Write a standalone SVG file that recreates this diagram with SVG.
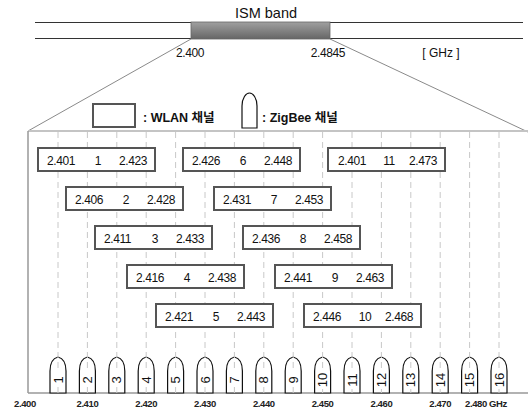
<svg xmlns="http://www.w3.org/2000/svg" width="528" height="411" viewBox="0 0 528 411">
<style>
text{font-family:"Liberation Sans","Noto Sans CJK KR",sans-serif;fill:#111}
.t12{font-size:12px}
.ax{font-size:9.5px;font-weight:bold;text-anchor:middle;letter-spacing:-0.4px;fill:#222}
.wl{fill:#fff;stroke:#555;stroke-width:2}
.wt{font-size:12px;letter-spacing:-0.4px}
.cap{fill:#fff;stroke:#111;stroke-width:1.2}
.grid{stroke:#c8c8c8;stroke-width:1;stroke-dasharray:6 4;fill:none}
.num{font-size:13px;text-anchor:middle}
</style>
<defs>
<linearGradient id="gb" x1="0" y1="0" x2="0" y2="1">
<stop offset="0" stop-color="#a0a0a0"/>
<stop offset="1" stop-color="#666"/>
</linearGradient>
<path id="cap" d="M-8,393 V371 C-8,362 -4,358 0,357 C4,358 8,362 8,371 V393 Z"/>
</defs>
<rect width="528" height="411" fill="#fff"/>
<g id="ism-band">
<text x="266" y="18" text-anchor="middle" style="font-size:14.5px">ISM band</text>
<line x1="35" y1="22.5" x2="523" y2="22.5" stroke="#333" stroke-width="1"/>
<line x1="35" y1="38.5" x2="523" y2="38.5" stroke="#333" stroke-width="1"/>
<rect x="191" y="22" width="139" height="17" fill="url(#gb)" stroke="#666" stroke-width="0.8"/>
<text class="t12" x="190" y="57" text-anchor="middle" letter-spacing="-0.4">2.400</text>
<text class="t12" x="328" y="57" text-anchor="middle" letter-spacing="-0.4">2.4845</text>
<text class="t12" x="441" y="57" text-anchor="middle">[ GHz ]</text>
</g>
<g id="zoom-lines" stroke="#8a8a8a" stroke-width="1" fill="none">
<line x1="191" y1="39" x2="28" y2="131"/>
<line x1="330" y1="39" x2="528" y2="132"/>
</g>
<g id="legend">
<rect x="93" y="104" width="42" height="23" class="wl"/>
<text x="143" y="122" style="font-size:12.5px;font-weight:bold">: WLAN 채널</text>
<path class="cap" d="M242,128 V106 C242,98 246,93 249.5,93 C253,93 257,98 257,106 V128 Z"/>
<text x="262" y="122" style="font-size:12.5px;font-weight:bold">: ZigBee 채널</text>
</g>
<g id="frame" fill="none">
<line x1="28" y1="131" x2="528" y2="131" stroke="#c4c4c4" stroke-width="2"/>
<line x1="28" y1="131" x2="28" y2="393" stroke="#999" stroke-width="1.5"/>
<line x1="28" y1="393" x2="528" y2="393" stroke="#999" stroke-width="1.5"/>
</g>
<g id="zigbee-channels">
<g id="zb1"><use href="#cap" x="58" class="cap"/><text class="num" transform="translate(58,380) rotate(-90)" y="4.5">1</text></g>
<g id="zb2"><use href="#cap" x="87.4" class="cap"/><text class="num" transform="translate(87.4,380) rotate(-90)" y="4.5">2</text></g>
<g id="zb3"><use href="#cap" x="116.8" class="cap"/><text class="num" transform="translate(116.8,380) rotate(-90)" y="4.5">3</text></g>
<g id="zb4"><use href="#cap" x="146.2" class="cap"/><text class="num" transform="translate(146.2,380) rotate(-90)" y="4.5">4</text></g>
<g id="zb5"><use href="#cap" x="175.6" class="cap"/><text class="num" transform="translate(175.6,380) rotate(-90)" y="4.5">5</text></g>
<g id="zb6"><use href="#cap" x="205" class="cap"/><text class="num" transform="translate(205,380) rotate(-90)" y="4.5">6</text></g>
<g id="zb7"><use href="#cap" x="234.4" class="cap"/><text class="num" transform="translate(234.4,380) rotate(-90)" y="4.5">7</text></g>
<g id="zb8"><use href="#cap" x="263.8" class="cap"/><text class="num" transform="translate(263.8,380) rotate(-90)" y="4.5">8</text></g>
<g id="zb9"><use href="#cap" x="293.2" class="cap"/><text class="num" transform="translate(293.2,380) rotate(-90)" y="4.5">9</text></g>
<g id="zb10"><use href="#cap" x="322.6" class="cap"/><text class="num" transform="translate(322.6,380) rotate(-90)" y="4.5">10</text></g>
<g id="zb11"><use href="#cap" x="352" class="cap"/><text class="num" transform="translate(352,380) rotate(-90)" y="4.5">11</text></g>
<g id="zb12"><use href="#cap" x="381.4" class="cap"/><text class="num" transform="translate(381.4,380) rotate(-90)" y="4.5">12</text></g>
<g id="zb13"><use href="#cap" x="410.8" class="cap"/><text class="num" transform="translate(410.8,380) rotate(-90)" y="4.5">13</text></g>
<g id="zb14"><use href="#cap" x="440.2" class="cap"/><text class="num" transform="translate(440.2,380) rotate(-90)" y="4.5">14</text></g>
<g id="zb15"><use href="#cap" x="469.6" class="cap"/><text class="num" transform="translate(469.6,380) rotate(-90)" y="4.5">15</text></g>
<g id="zb16"><use href="#cap" x="499" class="cap"/><text class="num" transform="translate(499,380) rotate(-90)" y="4.5">16</text></g>
</g>
<g id="grid" class="grid">
<path d="M58,132V371M58,387V393M87.4,132V371M87.4,387V393M116.8,132V371M116.8,387V393M146.2,132V371M146.2,387V393M175.6,132V371M175.6,387V393M205,132V371M205,387V393M234.4,132V371M234.4,387V393M263.8,132V371M263.8,387V393M293.2,132V371M293.2,387V393M322.6,132V368M322.6,389V393M352,132V368M352,389V393M381.4,132V368M381.4,389V393M410.8,132V368M410.8,389V393M440.2,132V368M440.2,389V393M469.6,132V368M469.6,389V393M499,132V368M499,389V393"/>
</g>
<g id="wlan-channels">
<g id="wlan1"><rect class="wl" x="38" y="148" width="117" height="23"/><text class="wt" x="47" y="165">2.401</text><text class="wt" x="98" y="165" text-anchor="middle">1</text><text class="wt" x="147" y="165" text-anchor="end">2.423</text></g>
<g id="wlan6"><rect class="wl" x="183" y="148" width="117" height="23"/><text class="wt" x="192" y="165">2.426</text><text class="wt" x="243" y="165" text-anchor="middle">6</text><text class="wt" x="292" y="165" text-anchor="end">2.448</text></g>
<g id="wlan11"><rect class="wl" x="328" y="148" width="117" height="23"/><text class="wt" x="338" y="165">2.401</text><text class="wt" x="389" y="165" text-anchor="middle">11</text><text class="wt" x="437" y="165" text-anchor="end">2.473</text></g>
<g id="wlan2"><rect class="wl" x="66" y="187" width="117" height="23"/><text class="wt" x="75" y="204">2.406</text><text class="wt" x="126" y="204" text-anchor="middle">2</text><text class="wt" x="175" y="204" text-anchor="end">2.428</text></g>
<g id="wlan7"><rect class="wl" x="214" y="187" width="117" height="23"/><text class="wt" x="223" y="204">2.431</text><text class="wt" x="274" y="204" text-anchor="middle">7</text><text class="wt" x="323" y="204" text-anchor="end">2.453</text></g>
<g id="wlan3"><rect class="wl" x="95" y="226" width="117" height="23"/><text class="wt" x="104" y="243">2.411</text><text class="wt" x="155" y="243" text-anchor="middle">3</text><text class="wt" x="204" y="243" text-anchor="end">2.433</text></g>
<g id="wlan8"><rect class="wl" x="243" y="226" width="117" height="23"/><text class="wt" x="252" y="243">2.436</text><text class="wt" x="303" y="243" text-anchor="middle">8</text><text class="wt" x="352" y="243" text-anchor="end">2.458</text></g>
<g id="wlan4"><rect class="wl" x="127" y="265" width="117" height="23"/><text class="wt" x="136" y="282">2.416</text><text class="wt" x="187" y="282" text-anchor="middle">4</text><text class="wt" x="236" y="282" text-anchor="end">2.438</text></g>
<g id="wlan9"><rect class="wl" x="275" y="265" width="117" height="23"/><text class="wt" x="284" y="282">2.441</text><text class="wt" x="335" y="282" text-anchor="middle">9</text><text class="wt" x="384" y="282" text-anchor="end">2.463</text></g>
<g id="wlan5"><rect class="wl" x="156" y="304" width="117" height="23"/><text class="wt" x="165" y="321">2.421</text><text class="wt" x="216" y="321" text-anchor="middle">5</text><text class="wt" x="265" y="321" text-anchor="end">2.443</text></g>
<g id="wlan10"><rect class="wl" x="304" y="304" width="117" height="23"/><text class="wt" x="313" y="321">2.446</text><text class="wt" x="365" y="321" text-anchor="middle">10</text><text class="wt" x="413" y="321" text-anchor="end">2.468</text></g>
</g>
<g id="axis">
<text class="ax" x="25" y="407">2.400</text>
<text class="ax" x="87.4" y="407">2.410</text>
<text class="ax" x="146.2" y="407">2.420</text>
<text class="ax" x="205" y="407">2.430</text>
<text class="ax" x="263.8" y="407">2.440</text>
<text class="ax" x="322.6" y="407">2.450</text>
<text class="ax" x="381.4" y="407">2.460</text>
<text class="ax" x="440.2" y="407">2.470</text>
<text class="ax" x="486" y="407" text-anchor="start">2.480 GHz</text>
</g>
</svg>
